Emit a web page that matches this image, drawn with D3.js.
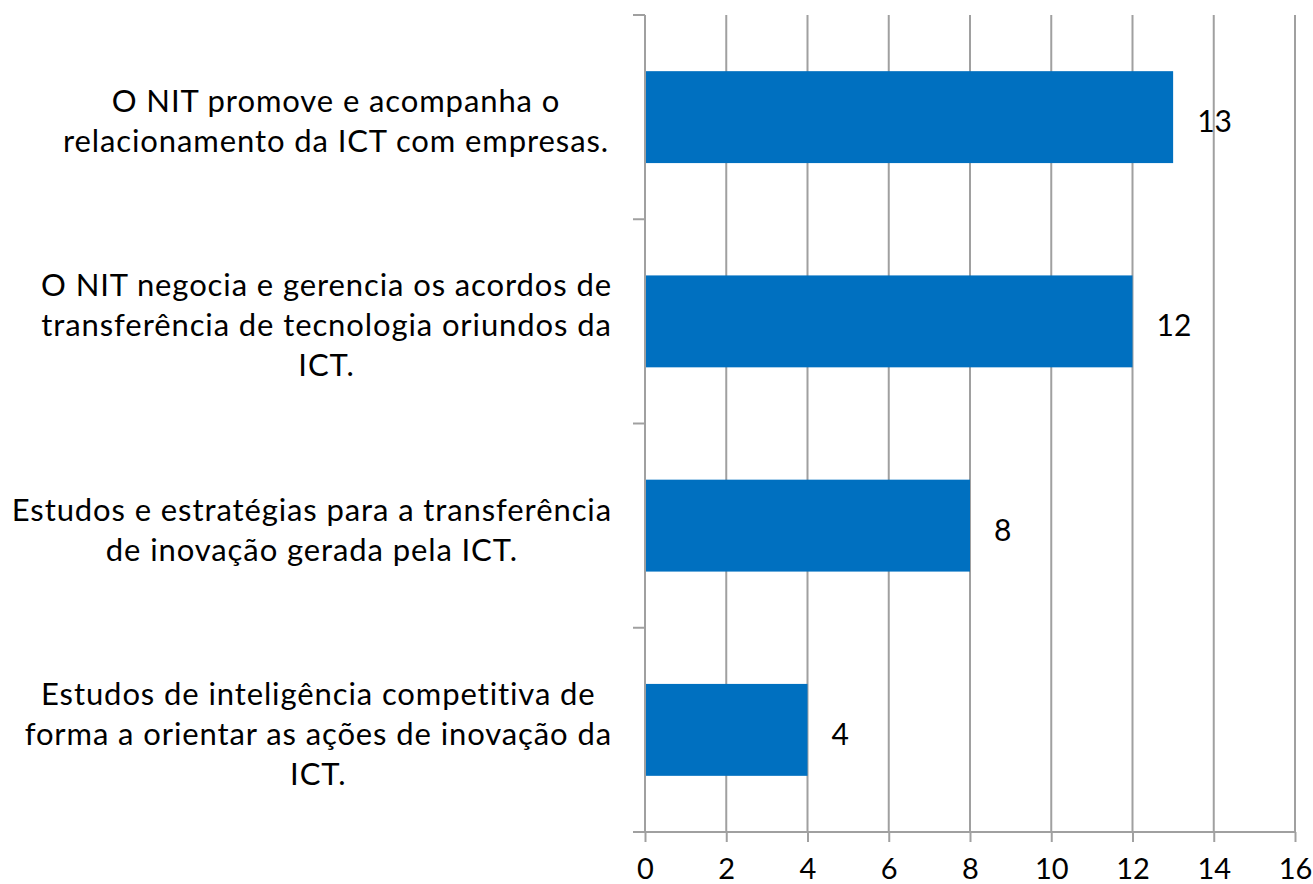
<!DOCTYPE html>
<html><head><meta charset="utf-8">
<script src="https://cdn.jsdelivr.net/npm/d3@7"></script>
<style>body{margin:0;background:#fff}svg{display:block}</style>
</head><body>
<svg id="c" width="1313" height="884"></svg>
<script>
const categories = [
  ["O NIT promove e acompanha o", "relacionamento da ICT com empresas."],
  ["O NIT negocia e gerencia os acordos de", "transferência de tecnologia oriundos da", "ICT."],
  ["Estudos e estratégias para a transferência", "de inovação gerada pela ICT."],
  ["Estudos de inteligência competitiva de", "forma a orientar as ações de inovação da", "ICT."]
];
const values = [13, 12, 8, 4];
const xTicks = [0, 2, 4, 6, 8, 10, 12, 14, 16];

(function () {
const svg = d3.select("#c");
const font = "Lato, 'Open Sans', sans-serif";
const pl = 645, pr = 1295, pt = 15, pb = 832;
const gridColor = "#a0a0a0";

const x = d3.scaleLinear().domain([0, 16]).range([pl, pr]);
const y = d3.scaleBand().domain(d3.range(categories.length)).range([pt, pb])
  .paddingInner(0.55).paddingOuter(0.275);

// gridlines
svg.append("g").selectAll("line").data(xTicks.filter(d => d > 0)).join("line")
  .attr("x1", d => x(d)).attr("x2", d => x(d))
  .attr("y1", pt).attr("y2", pb)
  .attr("stroke", gridColor).attr("stroke-width", 2);

// bars
svg.append("g").selectAll("rect").data(values).join("rect")
  .attr("x", x(0)).attr("y", (d, i) => y(i))
  .attr("width", d => x(d) - x(0)).attr("height", y.bandwidth())
  .attr("fill", "#0070c0");

// x axis
const xAxis = d3.axisBottom(x).tickValues(xTicks).tickSize(10).tickPadding(16).tickSizeOuter(0);
const gx = svg.append("g").attr("transform", `translate(0,${pb})`).call(xAxis);
gx.select(".domain").remove();
gx.append("line").attr("x1", pl - 12).attr("x2", pr).attr("y1", 0).attr("y2", 0)
  .attr("stroke", gridColor).attr("stroke-width", 2);
gx.selectAll(".tick line").attr("stroke", gridColor).attr("stroke-width", 2);
gx.selectAll(".tick text").attr("fill", "#000").attr("font-family", font).attr("font-size", 29);

// y axis line + band boundary ticks
const boundaries = d3.range(categories.length + 1).map(i => pt + i * (pb - pt) / categories.length);
svg.append("line").attr("x1", pl).attr("x2", pl).attr("y1", pt).attr("y2", pb)
  .attr("stroke", gridColor).attr("stroke-width", 2);
svg.append("g").selectAll("line").data(boundaries.slice(0, -1)).join("line")
  .attr("x1", pl - 12).attr("x2", pl).attr("y1", d => d).attr("y2", d => d)
  .attr("stroke", gridColor).attr("stroke-width", 2);

// category labels: each block centred, but kept clear of the axis on the right
const lh = 40, cx = 336, maxRight = pl - 33;
const cl = svg.append("g").attr("font-family", font).attr("font-size", 31)
  .attr("letter-spacing", 0.9).attr("fill", "#000")
  .attr("text-anchor", "middle");
categories.forEach((lines, i) => {
  const cy = y(i) + y.bandwidth() / 2 + 3;
  const t = cl.append("text");
  const spans = lines.map((ln, j) => t.append("tspan").attr("x", cx)
      .attr("y", cy + (j - (lines.length - 1) / 2) * lh)
      .attr("dominant-baseline", "central").text(ln));
  const maxW = d3.max(spans, s => s.node().getComputedTextLength());
  const bx = Math.min(cx, maxRight - maxW / 2);
  spans.forEach(s => s.attr("x", bx));
});

// value labels
svg.append("g").selectAll("text").data(values).join("text")
  .attr("x", d => x(d) + 24).attr("y", (d, i) => y(i) + y.bandwidth() / 2 + 3)
  .attr("dominant-baseline", "central")
  .attr("font-family", font).attr("font-size", 30).attr("fill", "#000")
  .text(d => d);
})();
</script>
</body></html>
